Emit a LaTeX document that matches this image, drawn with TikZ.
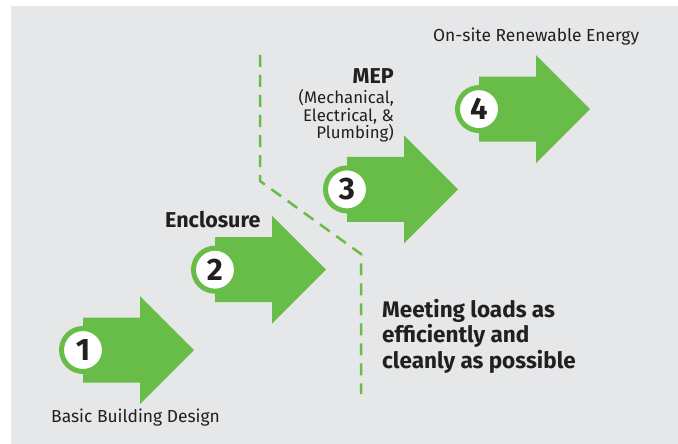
\documentclass[tikz,border=0pt]{standalone}
\usepackage{fontspec}
\setmainfont{Fira Sans}
\usepackage{xcolor}
\usetikzlibrary{positioning}
\definecolor{stagegreen}{HTML}{67BD47}
\definecolor{panelgray}{HTML}{E6E7E8}
\definecolor{inkdark}{HTML}{231F20}
\tikzset{%
	stagearrow/.style={
		fill=stagegreen
	},
	stagebadge/.style={
		circle,
		draw=stagegreen,
		fill=white,
		line width=5pt,
		minimum size=43pt,
		inner sep=0pt,
		text=inkdark,
		font=\bfseries\fontsize{31}{31}\selectfont
	},
	stagelabel/.style={
		inner sep=0pt,
		text=inkdark,
		font=\fontsize{17.4}{20}\selectfont
	},
	stagetitle/.style={
		inner sep=0pt,
		text=inkdark,
		font=\bfseries\fontsize{21.5}{24}\selectfont
	},
}
\begin{document}
\begin{tikzpicture}[x=1pt, y=-1pt]
	% panel
	\fill[white] (0,0) rectangle (678,444);
	\fill[panelgray] (11,6) rectangle (678,444);
	\useasboundingbox (0,0) rectangle (678,444);

	% divider
	\coordinate (divtop) at (260,55);
	\coordinate (divknee) at (260,181);
	\coordinate (divelbow) at (361,254);
	\coordinate (divend) at (361,394);
	\draw[stagegreen, line width=2.5pt, dash pattern=on 12pt off 8pt]
		(divtop) -- (divknee) -- (divelbow) -- (divend);

	% the four stages
	\foreach \n in {1,...,4} {
		\begin{scope}[shift={({83+132*(\n-1)},{350-80.3*(\n-1)})}]
			\fill[stagearrow] (0,-32.5) -- (57,-32.5) -- (57,-54) -- (111,0)
				-- (57,54) -- (57,32.5) -- (0,32.5) -- cycle;
			\node[stagebadge] (badge\n) at (0,0) {\n};
		\end{scope}
	}

	% labels
	\node[stagelabel, anchor=base west] (basic) at (51,422) {Basic Building Design};
	\node[stagetitle, anchor=base west] (enclosure) at (165,227) {Enclosure};
	\node[stagetitle, anchor=base east] (mep) at (394,84) {MEP};
	\node[stagelabel, anchor=north east, align=right,
		font=\fontsize{16.8}{17.8}\selectfont] (mepfull) at (394,89)
		{(Mechanical,\\Electrical, \&\\Plumbing)};
	\node[stagelabel, anchor=base west] (onsite) at (433,42) {On-site Renewable Energy};
	\node[stagetitle, anchor=north west, align=left,
		font=\bfseries\fontsize{22.5}{25.5}\selectfont] (meeting) at (382,299)
		{Meeting loads as\\efficiently and\\cleanly as possible};
\end{tikzpicture}
\end{document}
